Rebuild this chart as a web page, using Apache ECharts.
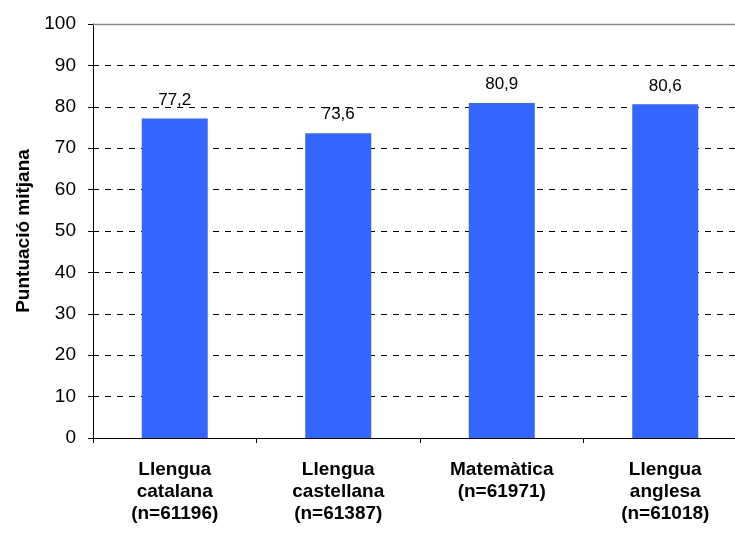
<!DOCTYPE html>
<html>
<head>
<meta charset="utf-8">
<script src="https://cdn.jsdelivr.net/npm/echarts@6/dist/echarts.min.js"></script>
<style>
html, body { margin: 0; padding: 0; background: #fff; overflow: hidden; }
/* the plot runs slightly past the right edge of the window */
#chart { width: 750px; height: 537px; }
</style>
</head>
<body>
<div id="chart"></div>
<script>
// Subject areas with sample sizes, and mean scores
const categories = [
  'Llengua\ncatalana\n(n=61196)',
  'Llengua\ncastellana\n(n=61387)',
  'Matemàtica\n(n=61971)',
  'Llengua\nanglesa\n(n=61018)'
];
const meanScores = [77.2, 73.6, 80.9, 80.6];
const yTicks = [0, 10, 20, 30, 40, 50, 60, 70, 80, 90, 100];

const chart = echarts.init(document.getElementById('chart'), null, { renderer: 'canvas' });

const font = 'Arial, "Liberation Sans", sans-serif';

chart.setOption({
  animation: false,
  backgroundColor: '#ffffff',
  grid: { left: 93, top: 24, width: 654, height: 414, containLabel: false },
  xAxis: {
    type: 'category',
    data: categories,
    axisLine: { show: true, lineStyle: { color: '#000', width: 1 } },
    axisTick: { show: true, alignWithLabel: false, length: 5, lineStyle: { color: '#000' } },
    axisLabel: {
      interval: 0,
      margin: 21,
      color: '#000',
      fontFamily: font,
      fontSize: 19,
      fontWeight: 'bold',
      lineHeight: 22
    },
    splitLine: { show: false }
  },
  yAxis: {
    type: 'value',
    min: yTicks[0],
    max: yTicks[yTicks.length - 1],
    interval: 10,
    name: 'Puntuació mitjana',
    nameLocation: 'middle',
    nameGap: 59,
    nameRotate: 90,
    nameTextStyle: {
      color: '#000',
      fontFamily: font,
      fontSize: 19,
      fontWeight: 'bold'
    },
    axisLine: { show: true, lineStyle: { color: '#000', width: 1 } },
    axisTick: { show: true, inside: false, length: 5, lineStyle: { color: '#000' } },
    axisLabel: {
      margin: 17,
      color: '#000',
      fontFamily: font,
      fontSize: 19
    },
    splitLine: {
      show: true,
      lineStyle: { color: '#000', width: 1, type: [6, 6] }
    }
  },
  series: [{
    type: 'bar',
    data: meanScores,
    barWidth: 66,
    itemStyle: { color: '#3366FF' },
    label: {
      show: true,
      position: 'top',
      distance: 10,
      color: '#000',
      fontFamily: font,
      fontSize: 17,
      formatter: p => String(p.value).replace('.', ',')
    }
  }],
  graphic: [{
    type: 'line',
    shape: { x1: 93, y1: 24.5, x2: 750, y2: 24.5 },
    style: { stroke: '#888', lineWidth: 1.5 },
    z: 10
  }]
});
</script>
</body>
</html>
